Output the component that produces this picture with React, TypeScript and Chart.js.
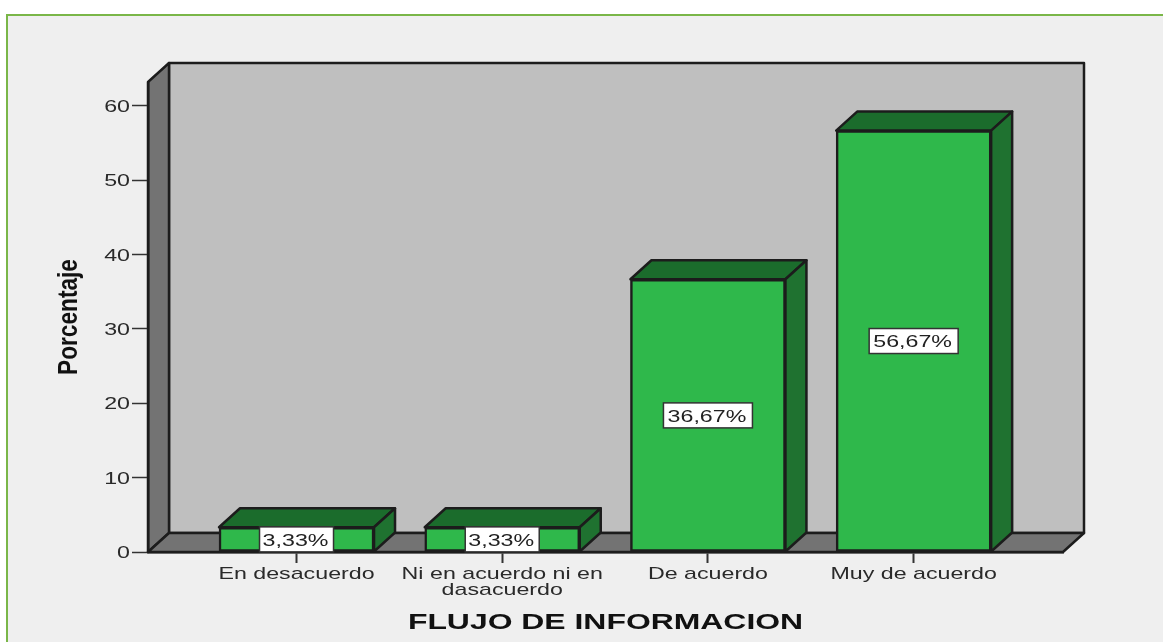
import React, { useEffect, useRef } from "react";
import { Chart, registerables } from "chart.js";

Chart.register(...registerables);

const categories: (string | string[])[] = [
  "En desacuerdo",
  ["Ni en acuerdo ni en", "dasacuerdo"],
  "De acuerdo",
  "Muy de acuerdo",
];
const percentages = [3.33, 3.33, 36.67, 56.67];
const valueLabels = ["3,33%", "3,33%", "36,67%", "56,67%"];
const yTicks = [0, 10, 20, 30, 40, 50, 60];
const xTitle = "FLUJO DE INFORMACION";
const yTitle = "Porcentaje";

const DX = 21;
const DY = -19;
const INK = "#1c1c1c";
const BODY_FONT = "Liberation Sans";

const poly = (ctx: CanvasRenderingContext2D, pts: number[][], fill: string, lw = 2.5) => {
  ctx.beginPath();
  pts.forEach(([x, y], i) => (i ? ctx.lineTo(x, y) : ctx.moveTo(x, y)));
  ctx.closePath();
  ctx.fillStyle = fill;
  ctx.fill();
  ctx.lineWidth = lw;
  ctx.lineJoin = "round";
  ctx.strokeStyle = INK;
  ctx.stroke();
};

const box3d = {
  id: "box3d",
  beforeDraw(chart: any) {
    const { ctx, chartArea: a } = chart;
    ctx.save();
    poly(ctx, [[a.left + DX, a.top + DY], [a.right + DX, a.top + DY], [a.right + DX, a.bottom + DY], [a.left + DX, a.bottom + DY]], "#bfbfbf");
    poly(ctx, [[a.left, a.top], [a.left + DX, a.top + DY], [a.left + DX, a.bottom + DY], [a.left, a.bottom]], "#737373");
    poly(ctx, [[a.left, a.bottom], [a.left + DX, a.bottom + DY], [a.right + DX, a.bottom + DY], [a.right, a.bottom]], "#737373");
    ctx.restore();
  },
  beforeDatasetsDraw(chart: any) {
    const { ctx } = chart;
    ctx.save();
    chart.getDatasetMeta(0).data.forEach((bar: any) => {
      const { x, y, base, width } = bar.getProps(["x", "y", "base", "width"], true);
      const l = x - width / 2;
      const r = x + width / 2;
      poly(ctx, [[l, y], [l + DX, y + DY], [r + DX, y + DY], [r, y]], "#1b6c2c");
      poly(ctx, [[r, y], [r + DX, y + DY], [r + DX, base + DY], [r, base]], "#1f7230");
    });
    ctx.restore();
  },
  afterDatasetsDraw(chart: any) {
    const { ctx } = chart;
    ctx.save();
    ctx.font = `17px "${BODY_FONT}"`;
    ctx.textAlign = "center";
    ctx.textBaseline = "middle";
    chart.getDatasetMeta(0).data.forEach((bar: any, i: number) => {
      const { x, y, base } = bar.getProps(["x", "y", "base"], true);
      const cy = (y + base) / 2;
      const w = valueLabels[i].length === 5 ? 74 : 89;
      ctx.fillStyle = "#ffffff";
      ctx.strokeStyle = "#333333";
      ctx.lineWidth = 1.5;
      ctx.fillRect(x - w / 2, cy - 12.5, w, 25);
      ctx.strokeRect(x - w / 2, cy - 12.5, w, 25);
      ctx.fillStyle = "#222222";
      ctx.fillText(valueLabels[i], x - 1, cy);
    });
    ctx.restore();
  },
};

// The reference text is stretched by image scaling, so each font gets its own width factor.
const stretchText = (ctx: CanvasRenderingContext2D) => {
  const orig = ctx.fillText.bind(ctx);
  (ctx as any).fillText = (text: string, x: number, y: number) => {
    const f = ctx.font;
    const k = f.includes("27px") ? 0.84 : f.includes("22px") ? 1.45 : 1.365;
    const dy = f.includes("17px") ? 1.5 : 0;
    ctx.save();
    ctx.translate(x, y + dy);
    ctx.scale(k, 1);
    orig(text, 0, 0);
    ctx.restore();
  };
};

export default function App() {
  const ref = useRef<HTMLCanvasElement>(null);
  useEffect(() => {
    const canvas = ref.current!;
    stretchText(canvas.getContext("2d")!);
    const chart = new Chart(canvas, {
      type: "bar",
      data: {
        datasets: [
          {
            data: percentages.map((y, x) => ({ x, y })),
            backgroundColor: "#2fb84b",
            borderColor: INK,
            borderWidth: 2.5,
            borderSkipped: false,
            barThickness: 155,
          },
        ],
      },
      plugins: [box3d],
      options: {
        responsive: false,
        animation: false,
        layout: { padding: { top: 82, right: 100, left: 0, bottom: 0 } },
        plugins: { legend: { display: false }, tooltip: { enabled: false } },
        scales: {
          x: {
            type: "linear",
            offset: false,
            min: -0.722,
            max: 3.726,
            afterBuildTicks: (s: any) => {
              s.ticks = categories.map((_, value) => ({ value }));
            },
            afterFit: (s: any) => {
              s.height = 90;
            },
            grid: { offset: false, drawOnChartArea: false, tickLength: 11, tickColor: "#333333", tickWidth: 2 },
            border: { color: INK, width: 2.5 },
            ticks: {
              includeBounds: false,
              autoSkip: false,
              maxRotation: 0,
              padding: 2,
              color: "#2a2a2a",
              font: { family: BODY_FONT, size: 17, lineHeight: 0.94 },
              callback: (v: any) => categories[v],
            },
            title: {
              display: true,
              text: xTitle,
              color: "#111111",
              font: { family: BODY_FONT, size: 22, weight: "bold", lineHeight: 1.2 },
              padding: { top: 0, bottom: 5.5 },
            },
          },
          y: {
            min: 0,
            max: 63.2,
            afterBuildTicks: (s: any) => {
              s.ticks = yTicks.map((value) => ({ value }));
            },
            afterFit: (s: any) => {
              s.width = 148;
            },
            grid: { drawOnChartArea: false, tickLength: 16, tickColor: "#333333", tickWidth: 1.5 },
            border: { color: INK, width: 2.5 },
            ticks: {
              includeBounds: false,
              padding: 2,
              color: "#2a2a2a",
              font: { family: BODY_FONT, size: 17 },
            },
            title: {
              display: true,
              text: yTitle,
              color: "#111111",
              font: { family: BODY_FONT, size: 27, weight: "bold", lineHeight: 1.2 },
              padding: { top: 53.5, bottom: 0 },
            },
          },
        },
      },
    } as any);
    return () => chart.destroy();
  }, []);

  return (
    <div style={{ position: "fixed", left: 0, top: 0, width: 1163, height: 642, background: "#ffffff", overflow: "hidden" }}>
      <div
        style={{
          position: "absolute",
          left: 6,
          top: 14,
          right: 0,
          bottom: 0,
          background: "#efefef",
          borderLeft: "2px solid #7ab648",
          borderTop: "2px solid #7ab648",
        }}
      />
      <canvas
        ref={ref}
        width={1163}
        height={642}
        style={{ position: "absolute", left: 0, top: 0, width: 1163, height: 642, filter: "blur(0.45px)" }}
      />
    </div>
  );
}
